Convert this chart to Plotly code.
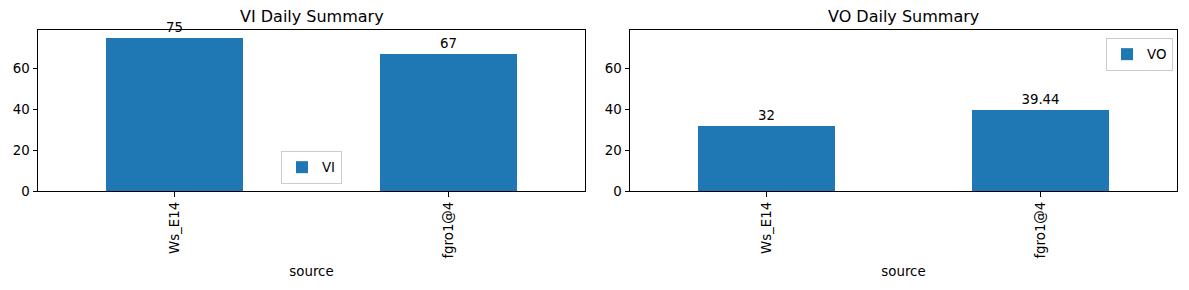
import plotly.graph_objects as go

categories = ["Ws_E14", "fgro1@4"]
vi_values = [75, 67]
vo_values = [32, 39.44]
vi_labels = ["75", "67"]
vo_labels = ["32", "39.44"]
y_ticks = [0, 20, 40, 60]
titles = ["VI Daily Summary", "VO Daily Summary"]

W, H = 1189, 290
mt, mb = 30, 99
ph = H - mt - mb
color = "#1f77b4"
font = "DejaVu Sans"
fs = 13.33

def py(pix):
    return (H - mb - pix) / ph

fig = go.Figure()
fig.add_trace(go.Bar(x=categories, y=vi_values, name="VI", marker_color=color, width=0.5,
                     marker_line_width=0,
                     text=vi_labels, textposition="outside", cliponaxis=False,
                     textfont=dict(color="black", size=fs, family=font),
                     xaxis="x", yaxis="y", legend="legend", constraintext="none"))
fig.add_trace(go.Bar(x=categories, y=vo_values, name="VO", marker_color=color, width=0.5,
                     marker_line_width=0,
                     text=vo_labels, textposition="outside", cliponaxis=False,
                     textfont=dict(color="black", size=fs, family=font),
                     xaxis="x2", yaxis="y2", legend="legend2", constraintext="none"))

ymax = max(vi_values + vo_values) * 1.05
axis_common = dict(showline=True, mirror=True, linecolor="black", linewidth=1,
                   ticks="outside", ticklen=4.5, tickcolor="black", showgrid=False,
                   zeroline=False, tickfont=dict(family=font, size=fs, color="black"))

domains = [[38 / W, 585 / W], [630 / W, 1177 / W]]
for i, dom in enumerate(domains):
    sx = "" if i == 0 else "2"
    fig.update_layout({
        f"xaxis{sx}": dict(domain=dom, range=[-0.5, 1.5], tickangle=-90, anchor=f"y{sx}",
                           title=dict(text="source", standoff=9,
                                      font=dict(family=font, size=fs, color="black")),
                           **axis_common),
        f"yaxis{sx}": dict(domain=[0, 1], range=[0, ymax], tickvals=y_ticks, anchor=f"x{sx}",
                           **axis_common),
    })
    fig.add_annotation(text=titles[i], x=(dom[0] + dom[1]) / 2, y=py(16), xref="paper", yref="paper",
                       showarrow=False, font=dict(family=font, size=16, color="black"),
                       xanchor="center", yanchor="middle")

legend_common = dict(bgcolor="rgba(255,255,255,0.8)", bordercolor="#cccccc", borderwidth=1,
                     font=dict(family=font, size=fs, color="black"))
fig.update_layout(
    width=W, height=H,
    margin=dict(l=0, r=0, t=mt, b=mb),
    plot_bgcolor="white", paper_bgcolor="white",
    showlegend=True,
    legend=dict(x=281 / W, xanchor="left", y=py(184), yanchor="bottom", **legend_common),
    legend2=dict(x=1173 / W, xanchor="right", y=py(38), yanchor="top", **legend_common),
    bargap=0,
)

fig.write_html("out.html")
